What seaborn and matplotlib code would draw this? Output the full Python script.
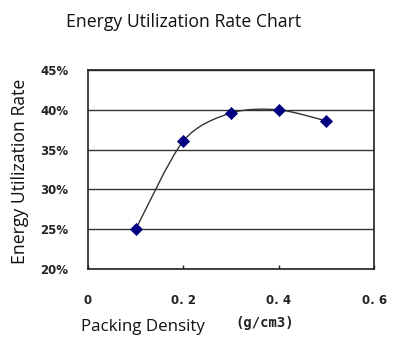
import matplotlib
matplotlib.use("Agg")
import matplotlib.pyplot as plt
from matplotlib.path import Path
from matplotlib.patches import PathPatch
import seaborn as sns
import numpy as np
import pandas as pd

# Packing density (g/cm3) and measured energy utilization rate (%)
density = [0.1, 0.2, 0.3, 0.4, 0.5]
utilization = [25.0, 36.1, 39.6, 40.0, 38.6]

x_ticks = [0, 0.2, 0.4, 0.6]
x_tick_labels = ["0", "0. 2", "0. 4", "0. 6"]
y_ticks = [20, 25, 30, 35, 40, 45]
y_tick_labels = ["20%", "25%", "30%", "35%", "40%", "45%"]

df = pd.DataFrame({"density": density, "utilization": utilization})

sns.set_style("white")
plt.rcParams["font.family"] = ["DejaVu Sans"]

fig = plt.figure(figsize=(3.93, 3.39), dpi=100)
ax = fig.add_axes([0.224, 0.2065, 0.728, 0.587])

# Smoothed connecting curve built from cubic Bezier segments through the points
pts = np.column_stack([density, utilization])
n = len(pts)
verts = [tuple(pts[0])]
codes = [Path.MOVETO]
tension = 1.0 / 7.0
for i in range(n - 1):
    p0 = pts[max(i - 1, 0)]
    p1 = pts[i]
    p2 = pts[i + 1]
    p3 = pts[min(i + 2, n - 1)]
    c1 = p1 + (p2 - p0) * tension
    c2 = p2 - (p3 - p1) * tension
    verts += [tuple(c1), tuple(c2), tuple(p2)]
    codes += [Path.CURVE4] * 3
curve = PathPatch(Path(verts, codes), facecolor="none", edgecolor="#333333",
                  lw=1.0, transform=ax.transData, zorder=3)
ax.add_patch(curve)

sns.scatterplot(data=df, x="density", y="utilization", marker="D", s=38,
                color="#000080", edgecolor="#000080", linewidth=0.5,
                ax=ax, zorder=4, legend=False)

ax.set_xlim(0, 0.6)
ax.set_ylim(20, 45)
ax.set_xticks(x_ticks)
ax.set_xticklabels(x_tick_labels)
ax.set_yticks(y_ticks)
ax.set_yticklabels(y_tick_labels)
for lbl in ax.get_xticklabels() + ax.get_yticklabels():
    lbl.set_fontweight("bold")
    lbl.set_fontsize(8.5)
    lbl.set_color("#222222")

ax.grid(axis="y", color="#333333", lw=1.0)
ax.grid(axis="x", visible=False)
ax.set_axisbelow(True)
for sp in ax.spines.values():
    sp.set_color("#222222")
    sp.set_linewidth(1.2)

ax.tick_params(axis="x", direction="in", length=3, width=1, pad=18,
               bottom=True, color="#222222")
ax.tick_params(axis="y", length=0, pad=14)

ax.set_xlabel("")
ax.set_ylabel("")

label_font = ["Open Sans", "DejaVu Sans"]
fig.text(0.468, 0.935, "Energy Utilization Rate Chart", ha="center", va="center",
         fontsize=12.7, family=label_font, color="#111111")
fig.text(0.051, 0.493, "Energy Utilization Rate", rotation=90, ha="center",
         va="center", fontsize=12.7, family=label_font, color="#111111")
fig.text(0.363, 0.035, "Packing Density", ha="center", va="center",
         fontsize=12.2, family=label_font, color="#111111")
fig.text(0.674, 0.047, "(g/cm3)", ha="center", va="center",
         fontsize=10, fontweight="bold", family=["DejaVu Sans Mono"],
         color="#222222")

fig.savefig("out.png", dpi=100)
